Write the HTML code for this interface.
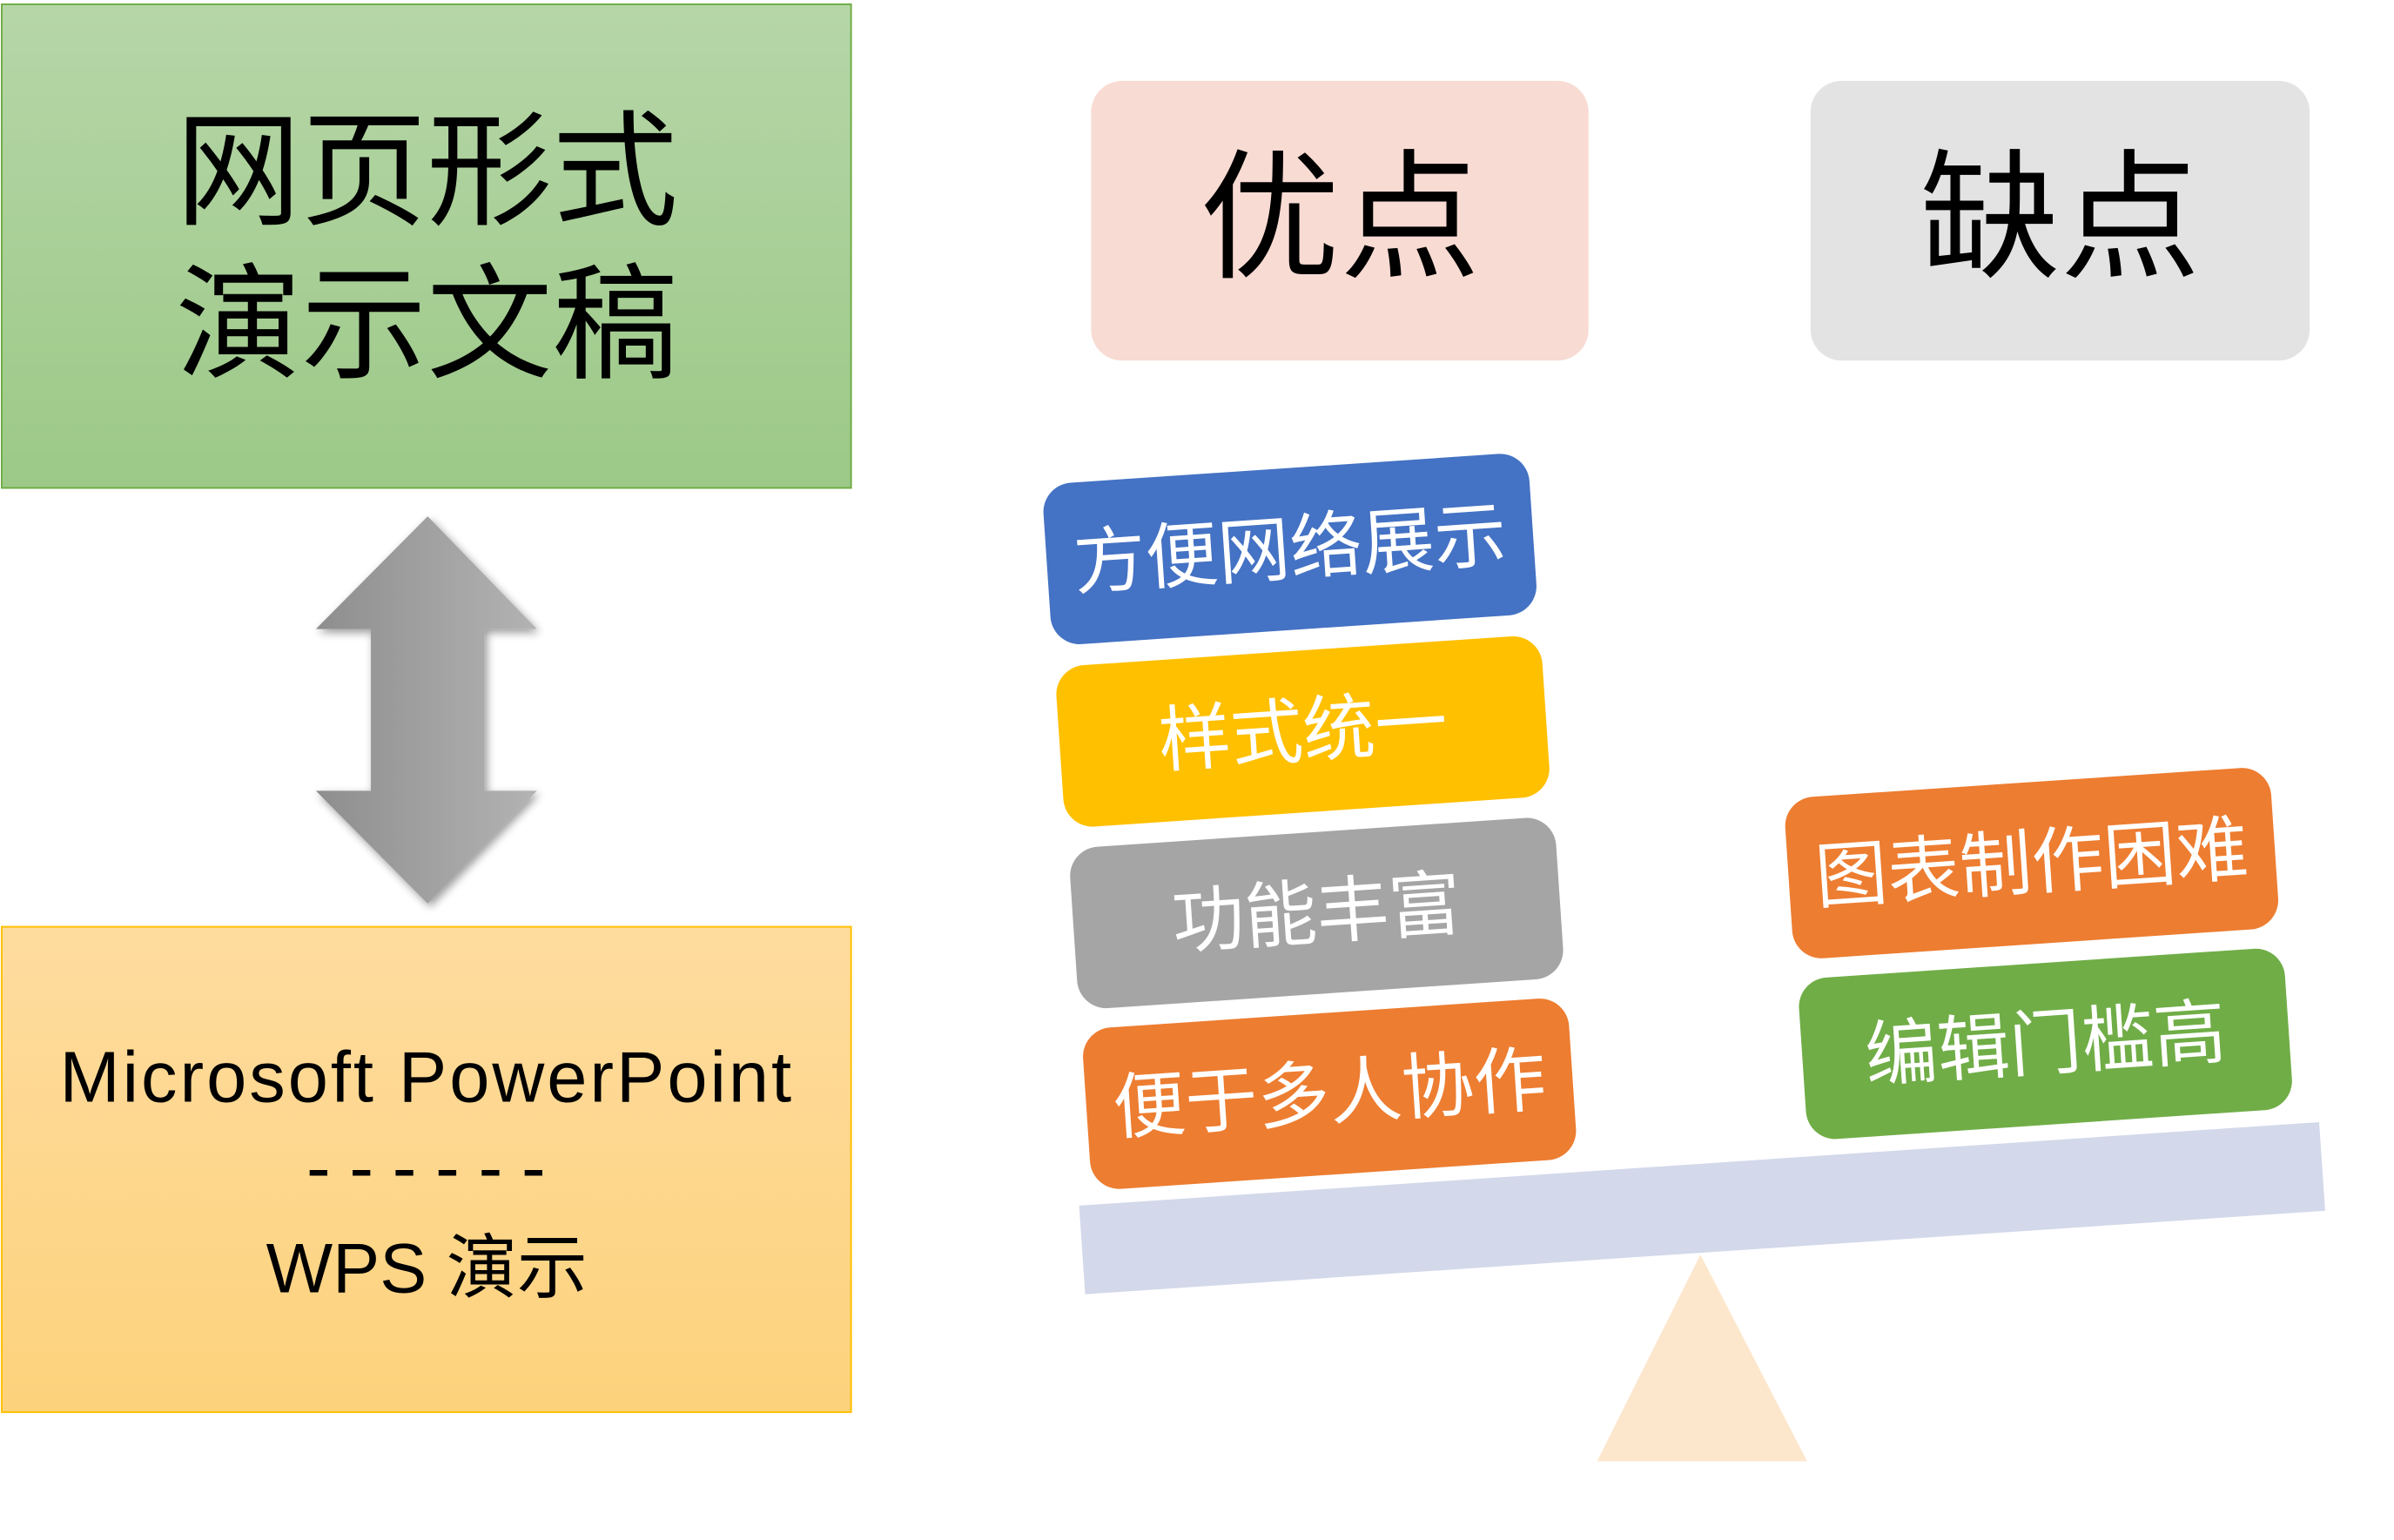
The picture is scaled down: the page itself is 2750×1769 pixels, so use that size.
<!DOCTYPE html>
<html><head><meta charset="utf-8"><style>
html,body{margin:0;padding:0;background:#fff;}
svg{display:block;}
</style></head><body>
<svg width="2750" height="1769" viewBox="0 0 2750 1769" xmlns="http://www.w3.org/2000/svg" font-family="'Liberation Sans','Noto Sans CJK SC',sans-serif">
<defs>
<linearGradient id="g1" x1="0" y1="0" x2="0" y2="1"><stop offset="0" stop-color="#b6d6a8"/><stop offset="1" stop-color="#9cc987"/></linearGradient>
<linearGradient id="g2" x1="0" y1="0" x2="0" y2="1"><stop offset="0" stop-color="#fedc9f"/><stop offset="1" stop-color="#fdd27c"/></linearGradient>
<linearGradient id="g3" x1="0" y1="0" x2="1" y2="0"><stop offset="0" stop-color="#8e8e8e"/><stop offset="1" stop-color="#b3b3b3"/></linearGradient>
<filter id="sh" x="-20%" y="-20%" width="140%" height="140%"><feGaussianBlur in="SourceAlpha" stdDeviation="5"/><feOffset dx="3" dy="4"/><feComponentTransfer><feFuncA type="linear" slope="0.4"/></feComponentTransfer><feMerge><feMergeNode/><feMergeNode in="SourceGraphic"/></feMerge></filter>
</defs>
<g transform="scale(0.9885)">
<rect x="2" y="5" width="987" height="562" fill="url(#g1)" stroke="#70ad47" stroke-width="2"/>
<text x="496" y="250" font-size="146" text-anchor="middle" fill="#000">网页形式</text>
<text x="496" y="428" font-size="146" text-anchor="middle" fill="#000">演示文稿</text>

<polygon filter="url(#sh)" fill="url(#g3)" points="497,600 624,731 563,731 563,919 624,919 497,1050 367,919 431,919 431,731 367,731"/>

<rect x="2" y="1077" width="987" height="564" fill="url(#g2)" stroke="#ffc000" stroke-width="2"/>
<text x="496" y="1280" font-size="84" letter-spacing="3" text-anchor="middle" fill="#000">Microsoft PowerPoint</text>
<text x="506" y="1385" font-size="84" text-anchor="middle" fill="#000" letter-spacing="22">------</text>
<text x="496" y="1502" font-size="82" text-anchor="middle" fill="#000">WPS 演示</text>

<rect x="1268" y="94" width="578" height="325" rx="36" fill="#f8dbd3"/>
<text x="1557" y="310" font-size="163" text-anchor="middle" fill="#000">优点</text>
<rect x="2104" y="94" width="580" height="325" rx="36" fill="#e3e3e3"/>
<text x="2394" y="310" font-size="163" text-anchor="middle" fill="#000">缺点</text>

<polygon points="1254,1401 2695,1304 2702,1407 1261,1504" fill="#d3d9ea"/>
<polygon points="1976,1458 2100,1698 1856,1698" fill="#fde7cc"/>

<g font-size="84" fill="#fff" text-anchor="middle">
<g transform="translate(1499,638) rotate(-3.85)"><rect x="-283" y="-94" width="566" height="188" rx="34" fill="#4472c4"/><text y="29">方便网络展示</text></g>
<g transform="translate(1514,850) rotate(-3.85)"><rect x="-283" y="-94" width="566" height="188" rx="34" fill="#ffc000"/><text y="29">样式统一</text></g>
<g transform="translate(1530,1061) rotate(-3.85)"><rect x="-283" y="-94" width="566" height="188" rx="34" fill="#a5a5a5"/><text y="29">功能丰富</text></g>
<g transform="translate(1545,1271) rotate(-3.85)"><rect x="-283" y="-94" width="566" height="188" rx="34" fill="#ed7d31"/><text y="29">便于多人协作</text></g>
<g transform="translate(2361,1003) rotate(-3.85)"><rect x="-283" y="-94" width="566" height="188" rx="34" fill="#ed7d31"/><text y="29">图表制作困难</text></g>
<g transform="translate(2377,1213) rotate(-3.85)"><rect x="-283" y="-94" width="566" height="188" rx="34" fill="#70ad47"/><text y="29">编辑门槛高</text></g>
</g>
</g>
</svg>
</body></html>
